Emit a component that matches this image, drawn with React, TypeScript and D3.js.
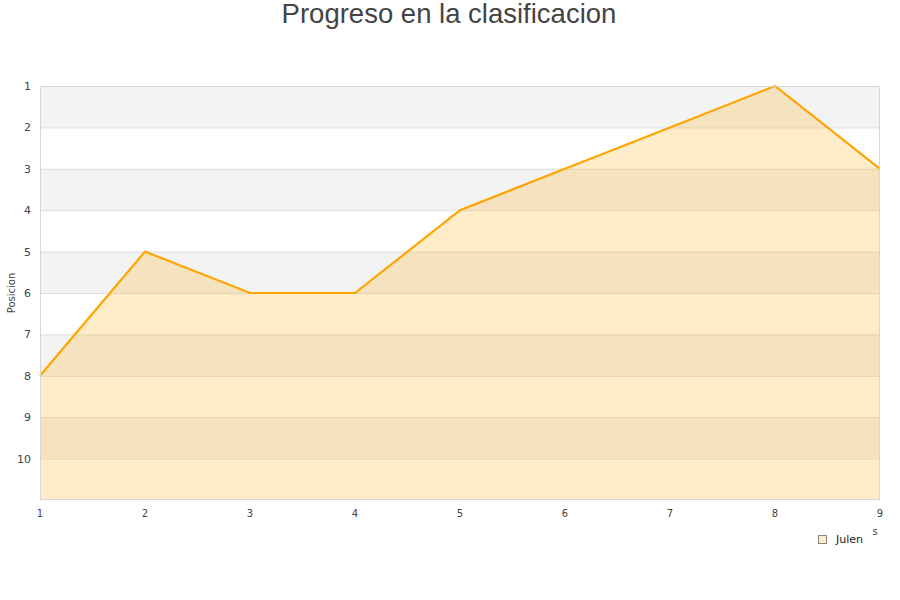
import { useEffect, useRef } from 'react'
import * as d3 from 'd3'

const jornadas = [1, 2, 3, 4, 5, 6, 7, 8, 9]
const posiciones = [8, 5, 6, 6, 4, 3, 2, 1, 3]
const yTicks = [1, 2, 3, 4, 5, 6, 7, 8, 9, 10]
const seriesName = 'Julen'

export default function App() {
  const ref = useRef<SVGSVGElement>(null)

  useEffect(() => {
    if (!ref.current) return
    const svg = d3.select(ref.current)
    svg.selectAll('*').remove()

    const width = 900
    const height = 600
    const left = 40
    const right = 880
    const top = 86
    const bottom = 500

    svg.attr('width', width).attr('height', height)

    const x = d3.scaleLinear().domain([1, 9]).range([left, right])
    const y = d3.scaleLinear().domain([1, 11]).range([top, bottom])

    // alternating bands
    for (let v = 1; v < 11; v++) {
      svg.append('rect')
        .attr('x', left)
        .attr('y', y(v))
        .attr('width', right - left)
        .attr('height', y(v + 1) - y(v))
        .attr('fill', v % 2 === 1 ? '#f3f3f3' : '#ffffff')
    }

    // grid lines
    svg.append('g')
      .selectAll('line')
      .data(yTicks.slice(1))
      .join('line')
      .attr('x1', left)
      .attr('x2', right)
      .attr('y1', d => y(d) + 0.5)
      .attr('y2', d => y(d) + 0.5)
      .attr('stroke', '#dedede')
      .attr('stroke-width', 1)

    const data = jornadas.map((j, i) => [j, posiciones[i]] as [number, number])

    const area = d3.area<[number, number]>()
      .x(d => x(d[0]))
      .y0(y(11))
      .y1(d => y(d[1]))

    svg.append('path')
      .datum(data)
      .attr('d', area)
      .attr('fill', 'rgba(255,170,0,0.21)')

    const line = d3.line<[number, number]>()
      .x(d => x(d[0]))
      .y(d => y(d[1]))

    svg.append('path')
      .datum(data)
      .attr('d', line)
      .attr('fill', 'none')
      .attr('stroke', '#ffa500')
      .attr('stroke-width', 2.2)

    // plot border
    svg.append('rect')
      .attr('x', left + 0.5)
      .attr('y', top + 0.5)
      .attr('width', right - left - 1)
      .attr('height', bottom - top - 1)
      .attr('fill', 'none')
      .attr('stroke', '#d6d6d6')

    // y tick labels
    svg.append('g')
      .selectAll('text')
      .data(yTicks)
      .join('text')
      .attr('x', 31)
      .attr('y', d => y(d) + 1)
      .attr('text-anchor', 'end')
      .attr('dominant-baseline', 'middle')
      .style('font-family', 'DejaVu Sans')
      .style('font-size', '11px')
      .style('fill', '#444')
      .text(d => d)

    // x tick labels
    svg.append('g')
      .selectAll('text')
      .data(jornadas)
      .join('text')
      .attr('x', d => x(d))
      .attr('y', 514)
      .attr('text-anchor', 'middle')
      .attr('dominant-baseline', 'middle')
      .style('font-family', 'DejaVu Sans')
      .style('font-size', '10px')
      .style('fill', '#444')
      .text(d => d)

    // y axis title
    svg.append('text')
      .attr('transform', 'translate(12,293) rotate(-90)')
      .attr('text-anchor', 'middle')
      .attr('dominant-baseline', 'middle')
      .style('font-family', 'DejaVu Sans')
      .style('font-size', '10px')
      .style('fill', '#444')
      .text('Posicion')

    // clipped x axis title remnant
    svg.append('text')
      .attr('x', 875)
      .attr('y', 532)
      .attr('text-anchor', 'middle')
      .attr('dominant-baseline', 'middle')
      .style('font-family', 'DejaVu Sans')
      .style('font-size', '10px')
      .style('fill', '#444')
      .text('s')

    // title
    svg.append('text')
      .attr('x', 449)
      .attr('y', 16)
      .attr('text-anchor', 'middle')
      .attr('dominant-baseline', 'middle')
      .style('font-family', 'Liberation Sans')
      .style('font-size', '27.5px')
      .style('fill', '#444')
      .text('Progreso en la clasificacion')

    // legend
    svg.append('rect')
      .attr('x', 818.5)
      .attr('y', 535.5)
      .attr('width', 8)
      .attr('height', 8)
      .attr('fill', '#ffecc8')
      .attr('stroke', '#888')
    svg.append('text')
      .attr('x', 836)
      .attr('y', 540)
      .attr('dominant-baseline', 'middle')
      .style('font-family', 'DejaVu Sans')
      .style('font-size', '11px')
      .style('fill', '#222')
      .text(seriesName)
  }, [])

  return <svg ref={ref} style={{ position: 'absolute', left: 0, top: 0 }}></svg>
}
